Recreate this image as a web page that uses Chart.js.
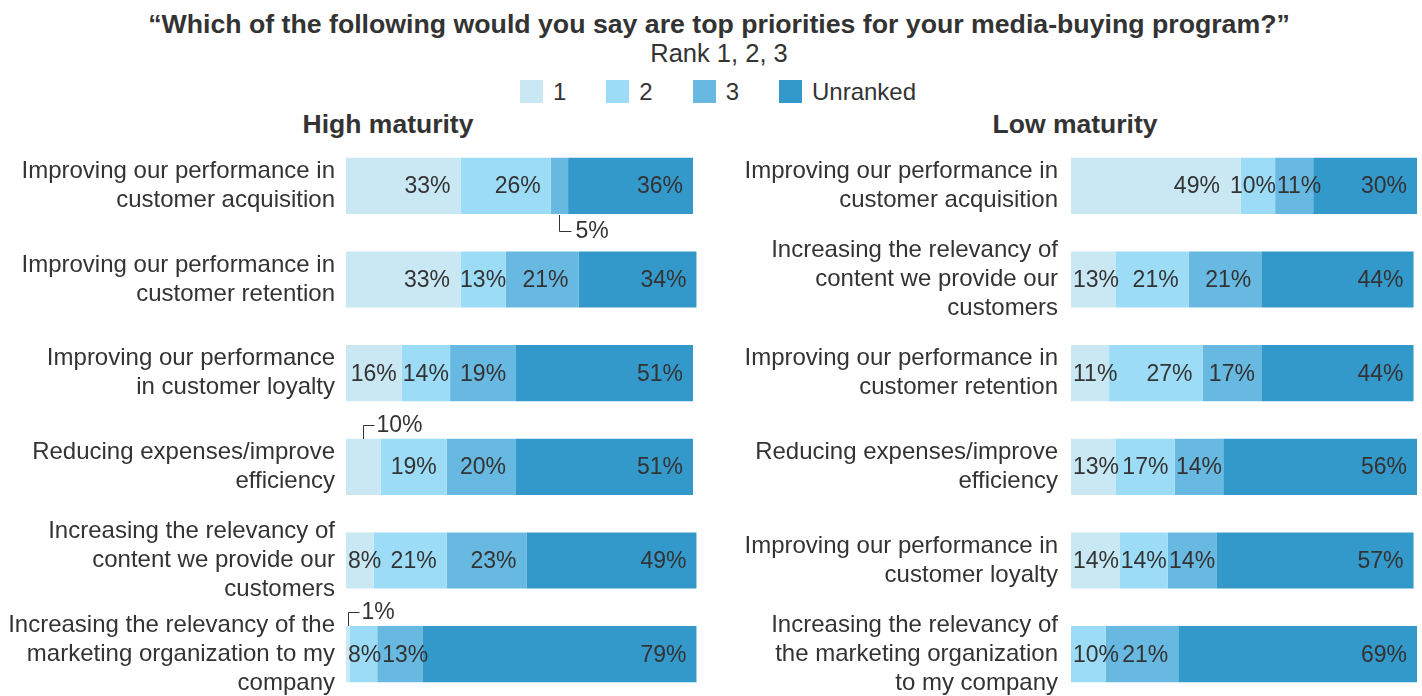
<!DOCTYPE html>
<html>
<head>
<meta charset="utf-8">
<script src="https://cdn.jsdelivr.net/npm/chart.js@4.4.1/dist/chart.umd.min.js"></script>
<style>
html,body{margin:0;padding:0;width:1422px;height:696px;overflow:hidden;background:#fff;font-family:"Liberation Sans",Arial,sans-serif;color:#333;}
.t{position:absolute;white-space:nowrap;text-align:center;}
#legend{position:absolute;left:0;top:79px;width:1436px;display:flex;justify-content:center;align-items:center;font-size:24px;line-height:25px;}
#legend .it{display:flex;align-items:center;margin:0 20px;}
#legend .bx{width:23px;height:23px;margin-right:10px;}
.wrap{position:absolute;top:139px;width:711px;height:562px;}
</style>
</head>
<body>
<div class="t" style="left:8px;width:1422px;top:9px;font-size:26.7px;font-weight:bold;line-height:30px;">“Which of the following would you say are top priorities for your media-buying program?”</div>
<div class="t" style="left:8px;width:1422px;top:38px;font-size:25.5px;line-height:30px;">Rank 1, 2, 3</div>
<div id="legend"></div>
<div class="t" style="left:238px;width:300px;top:109px;font-size:26.5px;font-weight:bold;line-height:30px;">High maturity</div>
<div class="t" style="left:925px;width:300px;top:109px;font-size:26.5px;font-weight:bold;line-height:30px;">Low maturity</div>
<div class="wrap" style="left:0;"><canvas id="high"></canvas></div>
<div class="wrap" style="left:711px;"><canvas id="low"></canvas></div>
<script>
// ---- data ----
const seriesNames = ['1', '2', '3', 'Unranked'];
const seriesColors = ['#C9E8F4', '#9DDCF7', '#67B9E1', '#3399CB'];

const highCategories = [
  ['Improving our performance in', 'customer acquisition'],
  ['Improving our performance in', 'customer retention'],
  ['Improving our performance', 'in customer loyalty'],
  ['Reducing expenses/improve', 'efficiency'],
  ['Increasing the relevancy of', 'content we provide our', 'customers'],
  ['Increasing the relevancy of the', 'marketing organization to my', 'company']
];
const highRank1 = [33, 33, 16, 10, 8, 1];
const highRank2 = [26, 13, 14, 19, 21, 8];
const highRank3 = [5, 21, 19, 20, 23, 13];
const highUnranked = [36, 34, 51, 51, 49, 79];

const lowCategories = [
  ['Improving our performance in', 'customer acquisition'],
  ['Increasing the relevancy of', 'content we provide our', 'customers'],
  ['Improving our performance in', 'customer retention'],
  ['Reducing expenses/improve', 'efficiency'],
  ['Improving our performance in', 'customer loyalty'],
  ['Increasing the relevancy of', 'the marketing organization', 'to my company']
];
const lowRank1 = [49, 13, 11, 13, 14, 0];
const lowRank2 = [10, 21, 27, 17, 14, 10];
const lowRank3 = [11, 21, 17, 14, 14, 21];
const lowUnranked = [30, 44, 44, 56, 57, 69];

// labels drawn outside their segment (row, series, direction)
const highCallouts = [
  {row: 0, series: 2, dir: 'down'},
  {row: 3, series: 0, dir: 'up'},
  {row: 5, series: 0, dir: 'up'}
];
const lowCallouts = [];

// ---- legend ----
const lg = document.getElementById('legend');
seriesNames.forEach((n, i) => {
  const it = document.createElement('div'); it.className = 'it';
  const bx = document.createElement('div'); bx.className = 'bx'; bx.style.background = seriesColors[i];
  const tx = document.createElement('span'); tx.textContent = n;
  it.appendChild(bx); it.appendChild(tx); lg.appendChild(it);
});

const FONT = '"Liberation Sans", Arial, sans-serif';

const valueLabels = {
  id: 'valueLabels',
  afterDatasetsDraw(chart, args, opts) {
    const ctx = chart.ctx;
    ctx.save();
    ctx.font = '23px ' + FONT;
    ctx.fillStyle = '#333333';
    ctx.strokeStyle = '#333333';
    ctx.lineWidth = 1;
    ctx.textBaseline = 'middle';
    ctx.textAlign = 'left';
    const callouts = opts.callouts || [];
    const n = chart.data.labels.length;
    const areaLeft = chart.chartArea.left;
    for (let j = 0; j < n; j++) {
      const items = [];
      chart.data.datasets.forEach((ds, i) => {
        const v = ds.data[j];
        if (!v) return;
        const el = chart.getDatasetMeta(i).data[j];
        const x0 = Math.min(el.base, el.x), x1 = Math.max(el.base, el.x);
        const txt = v + '%';
        const w = ctx.measureText(txt).width;
        const co = callouts.find(c => c.row === j && c.series === i);
        if (co) {
          const cx = Math.round((x0 + x1) / 2) + 0.5;
          ctx.beginPath();
          if (co.dir === 'down') {
            const yb = Math.round(el.y + el.height / 2);
            ctx.moveTo(cx, yb + 1); ctx.lineTo(cx, yb + 17.5); ctx.lineTo(cx + 12, yb + 17.5);
            ctx.stroke();
            ctx.fillText(txt, cx + 16, yb + 18);
          } else {
            const yt = Math.round(el.y - el.height / 2);
            ctx.moveTo(cx, yt); ctx.lineTo(cx, yt - 13.5); ctx.lineTo(cx + 11, yt - 13.5);
            ctx.stroke();
            ctx.fillText(txt, cx + 13, yt - 13);
          }
          return;
        }
        const fits = (x1 - x0 - w >= 20);
        let left = fits ? x1 - 10 - w : (x0 + x1) / 2 - w / 2;
        left = Math.max(left, areaLeft + 2);
        items.push({txt, left, w, fits, y: el.y});
      });
      for (let k = 1; k < items.length; k++) {
        const p = items[k - 1], c = items[k];
        const ov = p.left + p.w + 1 - c.left;
        if (ov > 0) {
          const pl = Math.max(areaLeft + 2, p.left - ov / 2);
          const moved = p.left - pl;
          p.left = pl;
          c.left += ov - moved;
        }
      }
      for (let k = 1; k < items.length; k++) {
        const p = items[k - 1], c = items[k];
        if (p.fits && !c.fits) p.left = Math.min(p.left, c.left - 10 - p.w);
      }
      items.forEach(it => ctx.fillText(it.txt, it.left, it.y + 1));
    }
    ctx.restore();
  }
};

function makeChart(id, cats, series, axisWidth, padRight, tickPad, callouts) {
  return new Chart(document.getElementById(id), {
    type: 'bar',
    data: {
      labels: cats,
      datasets: series.map((d, i) => ({
        label: seriesNames[i],
        data: d,
        backgroundColor: seriesColors[i],
        borderWidth: 0,
        barPercentage: 0.6,
        categoryPercentage: 1.0,
        clip: false
      }))
    },
    options: {
      indexAxis: 'y',
      responsive: true,
      maintainAspectRatio: false,
      animation: false,
      layout: {padding: {left: 0, right: padRight, top: 0, bottom: 0}},
      scales: {
        x: {stacked: true, min: 0, max: 100, display: false},
        y: {
          stacked: true,
          grid: {display: false, drawTicks: false},
          border: {display: false},
          ticks: {
            padding: tickPad,
            color: '#333333',
            font: {family: FONT, size: 24, lineHeight: 1.2}
          },
          afterFit(scale) {
            scale.width = axisWidth;
            scale.paddingTop = 0;
            scale.paddingBottom = 0;
          }
        }
      },
      plugins: {
        legend: {display: false},
        tooltip: {enabled: false},
        valueLabels: {callouts}
      }
    },
    plugins: [valueLabels]
  });
}

makeChart('high', highCategories, [highRank1, highRank2, highRank3, highUnranked], 346, 18, 11, highCallouts);
makeChart('low', lowCategories, [lowRank1, lowRank2, lowRank3, lowUnranked], 360, 5, 13, lowCallouts);
</script>
</body>
</html>
